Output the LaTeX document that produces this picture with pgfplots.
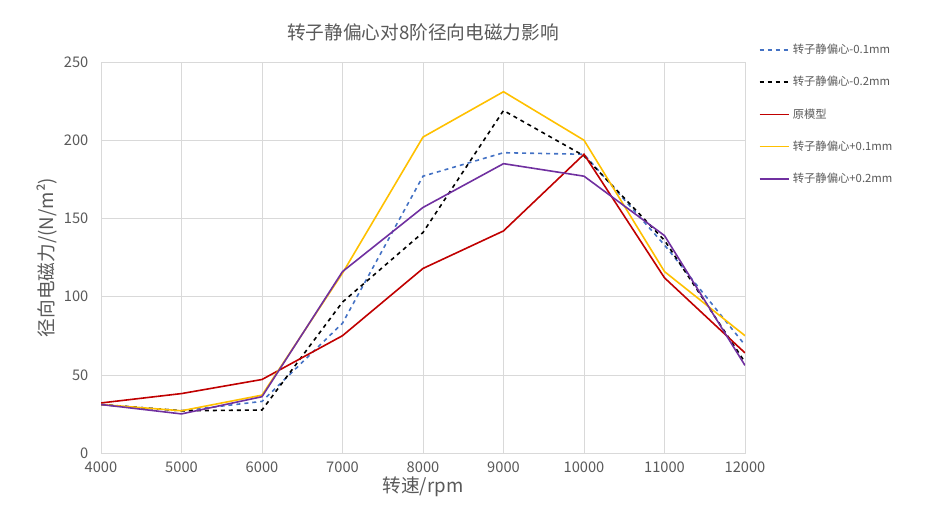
\documentclass[border=0pt]{standalone}
\usepackage{pgfplots}
\pgfplotsset{compat=1.18}
\usepackage{fontspec}
\setmainfont{Noto Sans CJK SC}
\definecolor{cb}{HTML}{4472C4}
\definecolor{cr}{HTML}{C00000}
\definecolor{cy}{HTML}{FFC000}
\definecolor{cp}{HTML}{7030A0}
\definecolor{tx}{HTML}{595959}
\begin{document}
\begin{tikzpicture}
\useasboundingbox (0,0) rectangle (695.25pt,389.25pt);
\begin{axis}[at={(75.75pt,49.5pt)},anchor=south west,
 scale only axis,width=483pt,height=293.25pt,
 xmin=4000,xmax=12000,ymin=0,ymax=250,
 xtick={4000,5000,...,12000},ytick={0,50,...,250},
 scaled ticks=false,
 /pgf/number format/1000 sep={},
 /pgf/number format/assume math mode=true,
 tick label style={font=\fontsize{11}{13}\selectfont,text=tx},
 xticklabel style={yshift=-3pt},yticklabel style={xshift=-6pt},
 grid=major,grid style={draw=gray!30},
 axis line style={draw=gray!30},tick style={draw=none},
 xlabel={转速/rpm},ylabel={径向电磁力/(N/m²)},
 label style={font=\fontsize{14}{16}\selectfont,text=tx},
 xlabel style={yshift=4pt},ylabel style={yshift=-2pt},
 title={转子静偏心对8阶径向电磁力影响},
 title style={font=\fontsize{14}{16}\selectfont,text=tx,yshift=6pt},
 legend style={at={(1.015,1.06)},anchor=north west,draw=none,fill=none,
   font=\fontsize{8.5}{10}\selectfont,row sep=11.5pt,text=tx},
 legend image post style={xscale=1.3},
 legend cell align=left,
 every axis plot/.append style={line width=1.2pt}]
\addplot[cb,dashed] coordinates {(4000,31)(5000,27)(6000,33)(7000,83)(8000,177)(9000,192)(10000,191)(11000,133)(12000,69)};
\addplot[black,dashed] coordinates {(4000,31)(5000,27)(6000,27.5)(7000,96.5)(8000,141)(9000,219)(10000,190)(11000,136)(12000,58)};
\addplot[cr] coordinates {(4000,32)(5000,38)(6000,47)(7000,75)(8000,118)(9000,142)(10000,191)(11000,112)(12000,64)};
\addplot[cy] coordinates {(4000,31)(5000,27)(6000,37)(7000,115)(8000,202)(9000,231)(10000,200)(11000,116)(12000,75)};
\addplot[cp] coordinates {(4000,31)(5000,25)(6000,36)(7000,116)(8000,157)(9000,185)(10000,177)(11000,139)(12000,56)};
\legend{转子静偏心-0.1mm,转子静偏心-0.2mm,原模型,转子静偏心+0.1mm,转子静偏心+0.2mm}
\end{axis}
\end{tikzpicture}
\end{document}
